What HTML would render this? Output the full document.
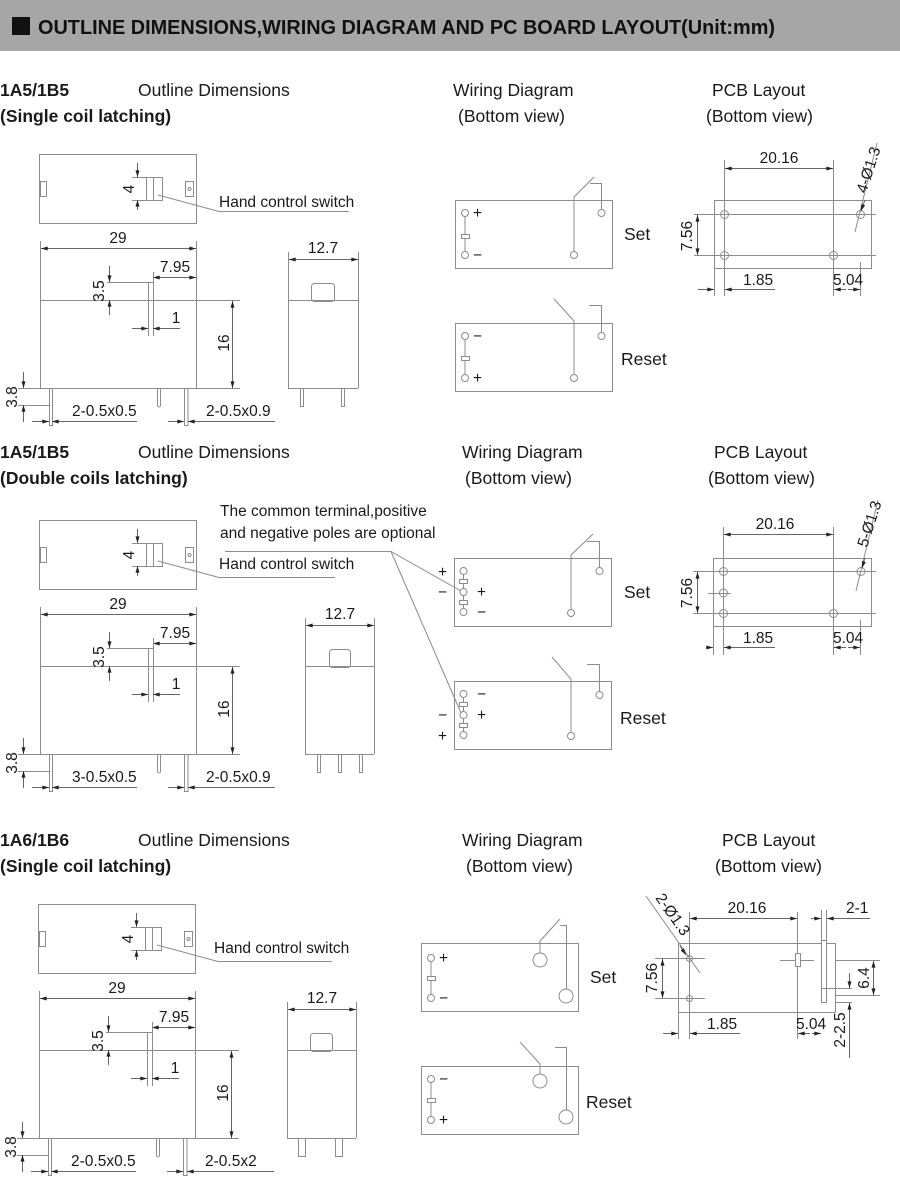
<!DOCTYPE html>
<html><head><meta charset="utf-8">
<style>
html,body{margin:0;padding:0;background:#fff;width:900px;height:1178px;overflow:hidden}
svg{display:block}
.l{stroke:#8c8c8c;stroke-width:1;fill:none}
.k{stroke:#8c8c8c;stroke-width:1;fill:#fff}
.d{stroke:#666;stroke-width:1;fill:none;marker-end:url(#m)}
.dd{stroke:#666;stroke-width:1;fill:none;marker-end:url(#m);marker-start:url(#m)}
text{font-family:"Liberation Sans",Arial,sans-serif;font-size:15.5px;fill:#1a1a1a}
.b{font-weight:bold;font-size:17.5px}
.t{font-size:17.5px}
.h{font-weight:bold;font-size:20px;fill:#111}
.c{text-anchor:middle}
</style></head><body>
<svg width="900" height="1178" viewBox="0 0 900 1178" xmlns="http://www.w3.org/2000/svg">
<defs>
<marker id="m" viewBox="0 0 10 6" refX="10" refY="3" markerWidth="8" markerHeight="4" markerUnits="userSpaceOnUse" orient="auto-start-reverse"><path d="M0,0 L10,3 L0,6 z" fill="#222"/></marker>
</defs>
<rect x="0" y="0" width="900" height="51" fill="#a6a6a6"/>
<rect x="12" y="17" width="18" height="18" fill="#111"/>
<text x="38" y="34" class="h" textLength="737" lengthAdjust="spacingAndGlyphs">OUTLINE DIMENSIONS,WIRING DIAGRAM AND PC BOARD LAYOUT(Unit:mm)</text>

<!-- headings -->
<text x="0" y="96" class="b">1A5/1B5</text><text x="0" y="122" class="b">(Single coil latching)</text>
<text x="138" y="96" class="t">Outline Dimensions</text>
<text x="453" y="96" class="t">Wiring Diagram</text><text x="458" y="122" class="t">(Bottom view)</text>
<text x="712" y="96" class="t">PCB Layout</text><text x="706" y="122" class="t">(Bottom view)</text>

<text x="0" y="458" class="b">1A5/1B5</text><text x="0" y="484" class="b">(Double coils latching)</text>
<text x="138" y="458" class="t">Outline Dimensions</text>
<text x="462" y="458" class="t">Wiring Diagram</text><text x="465" y="484" class="t">(Bottom view)</text>
<text x="714" y="458" class="t">PCB Layout</text><text x="708" y="484" class="t">(Bottom view)</text>

<text x="0" y="846" class="b">1A6/1B6</text><text x="0" y="872" class="b">(Single coil latching)</text>
<text x="138" y="846" class="t">Outline Dimensions</text>
<text x="462" y="846" class="t">Wiring Diagram</text><text x="466" y="872" class="t">(Bottom view)</text>
<text x="722" y="846" class="t">PCB Layout</text><text x="715" y="872" class="t">(Bottom view)</text>

<!-- ===== Outline section 1 ===== -->
<g>
<rect x="39.5" y="154.5" width="157" height="69" class="l"/>
<rect x="40.5" y="181.5" width="6" height="15" class="l"/>
<rect x="185.5" y="181.5" width="8" height="15" class="l"/><circle cx="189.5" cy="189" r="1.5" class="l"/>
<rect x="146.5" y="177.5" width="16" height="23" class="l"/><line x1="153.5" y1="177" x2="153.5" y2="200" class="l"/>
<line x1="132" y1="177.5" x2="146" y2="177.5" class="l"/><line x1="132" y1="200.5" x2="146" y2="200.5" class="l"/>
<line x1="137.5" y1="163" x2="137.5" y2="177" class="d"/><line x1="137.5" y1="210" x2="137.5" y2="200" class="d"/>
<text class="c" transform="translate(134,189) rotate(-90)">4</text>
<polyline points="158,195 219,211.5 349,211.5" class="l"/>
<text x="219" y="207" font-size="15.5">Hand control switch</text>
<line x1="40.5" y1="241" x2="40.5" y2="388" class="l"/><line x1="196.5" y1="241" x2="196.5" y2="388" class="l"/>
<line x1="40" y1="300.5" x2="240" y2="300.5" class="l"/><line x1="18" y1="388.5" x2="240" y2="388.5" class="l"/>
<line x1="41" y1="248.5" x2="196" y2="248.5" class="dd"/><text x="118" y="243" class="c">29</text>
<line x1="153" y1="277.5" x2="196" y2="277.5" class="dd"/><text x="175" y="272" class="c">7.95</text>
<line x1="153.5" y1="272" x2="153.5" y2="336" class="l"/><line x1="148.5" y1="282" x2="148.5" y2="336" class="l"/>
<line x1="107" y1="282.5" x2="153" y2="282.5" class="l"/>
<line x1="109.5" y1="266" x2="109.5" y2="282" class="d"/><line x1="109.5" y1="315" x2="109.5" y2="300" class="d"/>
<text class="c" transform="translate(104,291) rotate(-90)">3.5</text>
<line x1="132" y1="328.5" x2="148" y2="328.5" class="d"/><line x1="180" y1="328.5" x2="153" y2="328.5" class="d"/>
<text x="176" y="323" class="c">1</text>
<line x1="232.5" y1="301" x2="232.5" y2="388" class="dd"/><text class="c" transform="translate(229,343) rotate(-90)">16</text>
<rect x="49.5" y="388.5" width="3" height="37" class="l"/>
<path d="M157.5,388.5 V406 Q159,408 160.5,406 V388.5" class="l"/>
<rect x="184.5" y="388.5" width="3.5" height="37" class="l"/>
<line x1="18" y1="405.5" x2="50" y2="405.5" class="l"/>
<line x1="23.5" y1="372" x2="23.5" y2="388" class="d"/><line x1="23.5" y1="422" x2="23.5" y2="405" class="d"/>
<text class="c" transform="translate(17,397) rotate(-90)">3.8</text>
<line x1="32" y1="421.5" x2="49" y2="421.5" class="d"/><line x1="137" y1="421.5" x2="52" y2="421.5" class="d"/>
<text x="72" y="416">2-0.5x0.5</text>
<line x1="168" y1="421.5" x2="184" y2="421.5" class="d"/><line x1="275" y1="421.5" x2="188" y2="421.5" class="d"/>
<text x="206" y="416">2-0.5x0.9</text>
<line x1="288.5" y1="252" x2="288.5" y2="388" class="l"/><line x1="358.5" y1="252" x2="358.5" y2="388" class="l"/>
<line x1="288" y1="300.5" x2="358" y2="300.5" class="l"/><line x1="288" y1="388.5" x2="358" y2="388.5" class="l"/>
<line x1="289" y1="259.5" x2="358" y2="259.5" class="dd"/><text x="323" y="253" class="c">12.7</text>
<rect x="311.5" y="283.5" width="23" height="18" rx="3" class="l"/>
<rect x="300.5" y="388.5" width="3" height="18" class="l"/><rect x="341.5" y="388.5" width="3" height="18" class="l"/>
</g>

<!-- ===== Outline section 2 ===== -->
<g transform="translate(0,366)">
<rect x="39.5" y="154.5" width="157" height="69" class="l"/>
<rect x="40.5" y="181.5" width="6" height="15" class="l"/>
<rect x="185.5" y="181.5" width="8" height="15" class="l"/><circle cx="189.5" cy="189" r="1.5" class="l"/>
<rect x="146.5" y="177.5" width="16" height="23" class="l"/><line x1="153.5" y1="177" x2="153.5" y2="200" class="l"/>
<line x1="132" y1="177.5" x2="146" y2="177.5" class="l"/><line x1="132" y1="200.5" x2="146" y2="200.5" class="l"/>
<line x1="137.5" y1="163" x2="137.5" y2="177" class="d"/><line x1="137.5" y1="210" x2="137.5" y2="200" class="d"/>
<text class="c" transform="translate(134,189) rotate(-90)">4</text>
<polyline points="158,195 219,211.5 335,211.5" class="l"/>
<text x="219" y="203" font-size="15.5">Hand control switch</text>
<line x1="40.5" y1="241" x2="40.5" y2="388" class="l"/><line x1="196.5" y1="241" x2="196.5" y2="388" class="l"/>
<line x1="40" y1="300.5" x2="240" y2="300.5" class="l"/><line x1="18" y1="388.5" x2="240" y2="388.5" class="l"/>
<line x1="41" y1="248.5" x2="196" y2="248.5" class="dd"/><text x="118" y="243" class="c">29</text>
<line x1="153" y1="277.5" x2="196" y2="277.5" class="dd"/><text x="175" y="272" class="c">7.95</text>
<line x1="153.5" y1="272" x2="153.5" y2="336" class="l"/><line x1="148.5" y1="282" x2="148.5" y2="336" class="l"/>
<line x1="107" y1="282.5" x2="153" y2="282.5" class="l"/>
<line x1="109.5" y1="266" x2="109.5" y2="282" class="d"/><line x1="109.5" y1="315" x2="109.5" y2="300" class="d"/>
<text class="c" transform="translate(104,291) rotate(-90)">3.5</text>
<line x1="132" y1="328.5" x2="148" y2="328.5" class="d"/><line x1="180" y1="328.5" x2="153" y2="328.5" class="d"/>
<text x="176" y="323" class="c">1</text>
<line x1="232.5" y1="301" x2="232.5" y2="388" class="dd"/><text class="c" transform="translate(229,343) rotate(-90)">16</text>
<rect x="49.5" y="388.5" width="3" height="37" class="l"/>
<path d="M157.5,388.5 V406 Q159,408 160.5,406 V388.5" class="l"/>
<rect x="184.5" y="388.5" width="3.5" height="37" class="l"/>
<line x1="18" y1="405.5" x2="50" y2="405.5" class="l"/>
<line x1="23.5" y1="372" x2="23.5" y2="388" class="d"/><line x1="23.5" y1="422" x2="23.5" y2="405" class="d"/>
<text class="c" transform="translate(17,397) rotate(-90)">3.8</text>
<line x1="32" y1="421.5" x2="49" y2="421.5" class="d"/><line x1="137" y1="421.5" x2="52" y2="421.5" class="d"/>
<text x="72" y="416">3-0.5x0.5</text>
<line x1="168" y1="421.5" x2="184" y2="421.5" class="d"/><line x1="275" y1="421.5" x2="188" y2="421.5" class="d"/>
<text x="206" y="416">2-0.5x0.9</text>
<line x1="305.5" y1="252" x2="305.5" y2="388" class="l"/><line x1="374.5" y1="252" x2="374.5" y2="388" class="l"/>
<line x1="305" y1="300.5" x2="374" y2="300.5" class="l"/><line x1="305" y1="388.5" x2="374" y2="388.5" class="l"/>
<line x1="306" y1="259.5" x2="374" y2="259.5" class="dd"/><text x="340" y="253" class="c">12.7</text>
<rect x="329.5" y="283.5" width="21" height="18" rx="3" class="l"/>
<rect x="317.5" y="388.5" width="3" height="18" class="l"/><rect x="338.5" y="388.5" width="3" height="18" class="l"/><rect x="359.5" y="388.5" width="3" height="18" class="l"/>
</g>
<text x="220" y="516" font-size="15.5">The common terminal,positive</text>
<text x="220" y="538" font-size="15.5">and negative poles are optional</text>
<polyline points="225,551.5 391,551.5 461,591" class="l"/>
<line x1="391" y1="551.5" x2="461" y2="713" class="l"/>

<!-- ===== Outline section 3 ===== -->
<g transform="translate(-1,750)">
<rect x="39.5" y="154.5" width="157" height="69" class="l"/>
<rect x="40.5" y="181.5" width="6" height="15" class="l"/>
<rect x="185.5" y="181.5" width="8" height="15" class="l"/><circle cx="189.5" cy="189" r="1.5" class="l"/>
<rect x="146.5" y="177.5" width="16" height="23" class="l"/><line x1="153.5" y1="177" x2="153.5" y2="200" class="l"/>
<line x1="132" y1="177.5" x2="146" y2="177.5" class="l"/><line x1="132" y1="200.5" x2="146" y2="200.5" class="l"/>
<line x1="137.5" y1="163" x2="137.5" y2="177" class="d"/><line x1="137.5" y1="210" x2="137.5" y2="200" class="d"/>
<text class="c" transform="translate(134,189) rotate(-90)">4</text>
<polyline points="158,195 219,211.5 333,211.5" class="l"/>
<text x="215" y="203" font-size="15.5">Hand control switch</text>
<line x1="40.5" y1="241" x2="40.5" y2="388" class="l"/><line x1="196.5" y1="241" x2="196.5" y2="388" class="l"/>
<line x1="40" y1="300.5" x2="240" y2="300.5" class="l"/><line x1="18" y1="388.5" x2="240" y2="388.5" class="l"/>
<line x1="41" y1="248.5" x2="196" y2="248.5" class="dd"/><text x="118" y="243" class="c">29</text>
<line x1="153" y1="277.5" x2="196" y2="277.5" class="dd"/><text x="175" y="272" class="c">7.95</text>
<line x1="153.5" y1="272" x2="153.5" y2="336" class="l"/><line x1="148.5" y1="282" x2="148.5" y2="336" class="l"/>
<line x1="107" y1="282.5" x2="153" y2="282.5" class="l"/>
<line x1="109.5" y1="266" x2="109.5" y2="282" class="d"/><line x1="109.5" y1="315" x2="109.5" y2="300" class="d"/>
<text class="c" transform="translate(104,291) rotate(-90)">3.5</text>
<line x1="132" y1="328.5" x2="148" y2="328.5" class="d"/><line x1="180" y1="328.5" x2="153" y2="328.5" class="d"/>
<text x="176" y="323" class="c">1</text>
<line x1="232.5" y1="301" x2="232.5" y2="388" class="dd"/><text class="c" transform="translate(229,343) rotate(-90)">16</text>
<rect x="49.5" y="388.5" width="3" height="37" class="l"/>
<path d="M157.5,388.5 V406 Q159,408 160.5,406 V388.5" class="l"/>
<rect x="184.5" y="388.5" width="3.5" height="37" class="l"/>
<line x1="18" y1="405.5" x2="50" y2="405.5" class="l"/>
<line x1="23.5" y1="372" x2="23.5" y2="388" class="d"/><line x1="23.5" y1="422" x2="23.5" y2="405" class="d"/>
<text class="c" transform="translate(17,397) rotate(-90)">3.8</text>
<line x1="32" y1="421.5" x2="49" y2="421.5" class="d"/><line x1="137" y1="421.5" x2="52" y2="421.5" class="d"/>
<text x="72" y="416">2-0.5x0.5</text>
<line x1="168" y1="421.5" x2="184" y2="421.5" class="d"/><line x1="275" y1="421.5" x2="188" y2="421.5" class="d"/>
<text x="206" y="416">2-0.5x2</text>
<line x1="288.5" y1="252" x2="288.5" y2="388" class="l"/><line x1="357.5" y1="252" x2="357.5" y2="388" class="l"/>
<line x1="288" y1="300.5" x2="357" y2="300.5" class="l"/><line x1="288" y1="388.5" x2="357" y2="388.5" class="l"/>
<line x1="289" y1="259.5" x2="357" y2="259.5" class="dd"/><text x="323" y="253" class="c">12.7</text>
<rect x="311.5" y="283.5" width="22" height="18" rx="3" class="l"/>
<rect x="299.5" y="388.5" width="7" height="18" class="l"/><rect x="336.5" y="388.5" width="7" height="18" class="l"/>
</g>

<!-- ===== Wiring section 1 ===== -->
<rect x="455.5" y="200.5" width="157" height="68" class="l"/>
<line x1="465" y1="217" x2="465" y2="251" class="l"/><rect x="461.5" y="234.5" width="8" height="4" class="k"/>
<circle cx="465" cy="213" r="3.5" class="k"/><circle cx="465" cy="255" r="3.5" class="k"/>
<text x="473" y="218" font-size="13">+</text><text x="473" y="260" font-size="13">−</text>
<polyline points="574,251 574,197 594,177" class="l"/><polyline points="590,183.5 601.5,183.5 601.5,209" class="l"/>
<circle cx="574" cy="255" r="3.5" class="k"/><circle cx="601.5" cy="213" r="3.5" class="k"/>
<text x="624" y="240" class="t">Set</text>
<rect x="455.5" y="323.5" width="157" height="68" class="l"/>
<line x1="465" y1="340" x2="465" y2="374" class="l"/><rect x="461.5" y="356.5" width="8" height="4" class="k"/>
<circle cx="465" cy="336" r="3.5" class="k"/><circle cx="465" cy="378" r="3.5" class="k"/>
<text x="473" y="341" font-size="13">−</text><text x="473" y="383" font-size="13">+</text>
<polyline points="554,299 574,321 574,374" class="l"/><polyline points="589,305.5 601.5,305.5 601.5,332" class="l"/>
<circle cx="574" cy="378" r="3.5" class="k"/><circle cx="601.5" cy="336" r="3.5" class="k"/>
<text x="621" y="365" class="t">Reset</text>

<!-- ===== PCB section 1 ===== -->
<rect x="714.5" y="200.5" width="157" height="68" class="l"/>
<line x1="710" y1="214.5" x2="876" y2="214.5" class="l"/><line x1="710" y1="255.5" x2="876" y2="255.5" class="l"/>
<line x1="724.5" y1="160" x2="724.5" y2="296" class="l"/><line x1="833.5" y1="160" x2="833.5" y2="296" class="l"/>
<line x1="860.5" y1="262" x2="860.5" y2="296" class="l"/><line x1="714.5" y1="268" x2="714.5" y2="296" class="l"/>
<line x1="694" y1="214.5" x2="710" y2="214.5" class="l"/><line x1="694" y1="255.5" x2="710" y2="255.5" class="l"/>
<circle cx="724.5" cy="214.5" r="4" class="l"/><circle cx="724.5" cy="255.5" r="4" class="l"/><circle cx="833.5" cy="255.5" r="4" class="l"/><circle cx="860.5" cy="214.5" r="4" class="l"/>
<line x1="725" y1="168.5" x2="833" y2="168.5" class="dd"/><text x="779" y="163" class="c">20.16</text>
<line x1="697.5" y1="215" x2="697.5" y2="255" class="dd"/><text class="c" transform="translate(692,236) rotate(-90)">7.56</text>
<line x1="698" y1="289.5" x2="714" y2="289.5" class="d"/><line x1="775" y1="289.5" x2="725" y2="289.5" class="d"/><text x="743" y="285">1.85</text>
<line x1="846" y1="289.5" x2="834" y2="289.5" class="d"/><line x1="848" y1="289.5" x2="860" y2="289.5" class="d"/><text x="833" y="285">5.04</text>
<line x1="877" y1="143" x2="855" y2="232" class="l"/><line x1="865" y1="200" x2="861" y2="211" class="d"/>
<text transform="translate(866,194) rotate(-72)">4-Ø1.3</text>

<!-- ===== Wiring section 2 ===== -->
<rect x="454.5" y="558.5" width="157" height="68" class="l"/>
<line x1="463.5" y1="575" x2="463.5" y2="608" class="l"/>
<rect x="459.5" y="579.5" width="8" height="4" class="k"/><rect x="459.5" y="600.5" width="8" height="4" class="k"/>
<circle cx="463.5" cy="571" r="3.5" class="k"/><circle cx="463.5" cy="592" r="3.5" class="k"/><circle cx="463.5" cy="612" r="3.5" class="k"/>
<text x="438" y="577" font-size="13">+</text><text x="438" y="597" font-size="13">−</text>
<text x="477" y="597" font-size="13">+</text><text x="477" y="617" font-size="13">−</text>
<polyline points="571,609 571,555 593,534" class="l"/><polyline points="587,541.5 599.5,541.5 599.5,567" class="l"/>
<circle cx="571" cy="613" r="3.5" class="k"/><circle cx="599.5" cy="571" r="3.5" class="k"/>
<text x="624" y="598" class="t">Set</text>
<rect x="454.5" y="681.5" width="157" height="68" class="l"/>
<line x1="463.5" y1="698" x2="463.5" y2="731" class="l"/>
<rect x="459.5" y="702.5" width="8" height="4" class="k"/><rect x="459.5" y="723.5" width="8" height="4" class="k"/>
<circle cx="463.5" cy="694" r="3.5" class="k"/><circle cx="463.5" cy="715" r="3.5" class="k"/><circle cx="463.5" cy="735" r="3.5" class="k"/>
<text x="477" y="699" font-size="13">−</text><text x="477" y="720" font-size="13">+</text>
<text x="438" y="720" font-size="13">−</text><text x="438" y="741" font-size="13">+</text>
<polyline points="552,657 571,679 571,732" class="l"/><polyline points="587,664.5 599.5,664.5 599.5,691" class="l"/>
<circle cx="571" cy="736" r="3.5" class="k"/><circle cx="599.5" cy="695" r="3.5" class="k"/>
<text x="620" y="724" class="t">Reset</text>

<!-- ===== PCB section 2 ===== -->
<rect x="713.5" y="558.5" width="158" height="68" class="l"/>
<line x1="709" y1="571.5" x2="876" y2="571.5" class="l"/><line x1="709" y1="613.5" x2="876" y2="613.5" class="l"/><line x1="708" y1="593.5" x2="731" y2="593.5" class="l"/>
<line x1="723.5" y1="527" x2="723.5" y2="655" class="l"/><line x1="833.5" y1="527" x2="833.5" y2="655" class="l"/>
<line x1="860.5" y1="620" x2="860.5" y2="655" class="l"/><line x1="713.5" y1="626" x2="713.5" y2="655" class="l"/>
<line x1="693" y1="571.5" x2="709" y2="571.5" class="l"/><line x1="693" y1="613.5" x2="709" y2="613.5" class="l"/>
<circle cx="723.5" cy="571.5" r="4" class="l"/><circle cx="723.5" cy="593" r="4" class="l"/><circle cx="723.5" cy="613.5" r="4" class="l"/><circle cx="833.5" cy="613.5" r="4" class="l"/><circle cx="861" cy="571.5" r="4" class="l"/>
<line x1="724" y1="534.5" x2="833" y2="534.5" class="dd"/><text x="775" y="529" class="c">20.16</text>
<line x1="697.5" y1="572" x2="697.5" y2="613" class="dd"/><text class="c" transform="translate(692,593) rotate(-90)">7.56</text>
<line x1="706" y1="647.5" x2="713" y2="647.5" class="d"/><line x1="775" y1="647.5" x2="724" y2="647.5" class="d"/><text x="743" y="643">1.85</text>
<line x1="846" y1="647.5" x2="834" y2="647.5" class="d"/><line x1="848" y1="647.5" x2="860" y2="647.5" class="d"/><text x="833" y="643">5.04</text>
<line x1="878" y1="500" x2="856" y2="591" class="l"/><line x1="865" y1="558" x2="862" y2="568" class="d"/>
<text transform="translate(867,548) rotate(-72)">5-Ø1.3</text>

<!-- ===== Wiring section 3 ===== -->
<rect x="421.5" y="943.5" width="157" height="68" class="l"/>
<line x1="431" y1="961" x2="431" y2="995" class="l"/><rect x="427.5" y="976.5" width="8" height="4" class="k"/>
<circle cx="431" cy="958" r="3.5" class="k"/><circle cx="431" cy="998" r="3.5" class="k"/>
<text x="439" y="963" font-size="13">+</text><text x="439" y="1003" font-size="13">−</text>
<polyline points="540,953 540,941 560,919" class="l"/><polyline points="560,925.5 566.5,925.5 566.5,989" class="l"/>
<circle cx="540" cy="960" r="7" class="k"/><circle cx="566" cy="996" r="7" class="k"/>
<text x="590" y="983" class="t">Set</text>
<rect x="421.5" y="1066.5" width="157" height="68" class="l"/>
<line x1="431" y1="1083" x2="431" y2="1117" class="l"/><rect x="427.5" y="1098.5" width="8" height="4" class="k"/>
<circle cx="431" cy="1079" r="3.5" class="k"/><circle cx="431" cy="1120" r="3.5" class="k"/>
<text x="439" y="1084" font-size="13">−</text><text x="439" y="1125" font-size="13">+</text>
<polyline points="520,1042 540,1064 540,1074" class="l"/><polyline points="555,1047.5 566.5,1047.5 566.5,1110" class="l"/>
<circle cx="540" cy="1081" r="7" class="k"/><circle cx="566" cy="1117" r="7" class="k"/>
<text x="586" y="1108" class="t">Reset</text>

<!-- ===== PCB section 3 ===== -->
<rect x="678.5" y="943.5" width="157" height="69" class="l"/>
<line x1="676" y1="958.5" x2="705" y2="958.5" class="l"/><line x1="676" y1="998.5" x2="705" y2="998.5" class="l"/>
<line x1="655" y1="958.5" x2="676" y2="958.5" class="l"/><line x1="655" y1="998.5" x2="676" y2="998.5" class="l"/>
<line x1="689.5" y1="912" x2="689.5" y2="1039" class="l"/><line x1="797.5" y1="912" x2="797.5" y2="1039" class="l"/>
<line x1="678.5" y1="1012" x2="678.5" y2="1039" class="l"/>
<line x1="780" y1="960.5" x2="814" y2="960.5" class="l"/>
<circle cx="689.5" cy="958.5" r="3" class="l"/><circle cx="689.5" cy="998.5" r="3" class="l"/>
<rect x="795.5" y="953.5" width="5" height="13" class="k"/>
<rect x="821.5" y="940.5" width="5" height="62" class="k"/>
<line x1="821.5" y1="910" x2="821.5" y2="940" class="l"/><line x1="826.5" y1="910" x2="826.5" y2="940" class="l"/>
<line x1="690" y1="918.5" x2="797" y2="918.5" class="dd"/><text x="747" y="913" class="c">20.16</text>
<line x1="811" y1="918.5" x2="821" y2="918.5" class="d"/><line x1="870" y1="918.5" x2="827" y2="918.5" class="d"/><text x="846" y="913">2-1</text>
<line x1="836" y1="960.5" x2="880" y2="960.5" class="l"/><line x1="836" y1="995.5" x2="880" y2="995.5" class="l"/>
<line x1="873.5" y1="961" x2="873.5" y2="995" class="dd"/><text class="c" transform="translate(869,978) rotate(-90)">6.4</text>
<line x1="822" y1="988.5" x2="852" y2="988.5" class="l"/><line x1="836" y1="1002.5" x2="852" y2="1002.5" class="l"/>
<line x1="849.5" y1="973" x2="849.5" y2="988" class="d"/><line x1="849.5" y1="1058" x2="849.5" y2="1003" class="d"/>
<text class="c" transform="translate(845,1030) rotate(-90)">2-2.5</text>
<line x1="662.5" y1="959" x2="662.5" y2="998" class="dd"/><text class="c" transform="translate(657,978) rotate(-90)">7.56</text>
<line x1="663" y1="1033.5" x2="678" y2="1033.5" class="d"/><line x1="740" y1="1033.5" x2="690" y2="1033.5" class="d"/><text x="707" y="1029">1.85</text>
<line x1="810" y1="1033.5" x2="798" y2="1033.5" class="d"/><line x1="812" y1="1033.5" x2="821" y2="1033.5" class="d"/><text x="796" y="1029">5.04</text>
<line x1="646" y1="896" x2="700" y2="973" class="l"/><line x1="680" y1="946" x2="686" y2="955" class="d"/>
<text transform="translate(655,898) rotate(55)">2-Ø1.3</text>
</svg>
</body></html>
